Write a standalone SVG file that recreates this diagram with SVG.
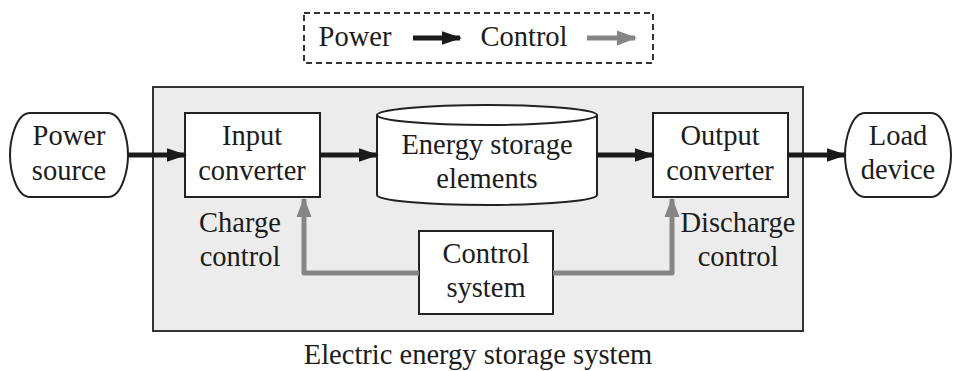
<svg xmlns="http://www.w3.org/2000/svg" width="953" height="371" viewBox="0 0 953 371">
<defs>
<marker id="ahB" markerWidth="4" markerHeight="4" refX="3.6" refY="2" orient="auto" markerUnits="strokeWidth" viewBox="0 0 4 4"><path d="M0,0.65 L4,2 L0,3.35 Z" fill="#1a1a1a"/></marker>
<marker id="ahG" markerWidth="4" markerHeight="4" refX="3.6" refY="2" orient="auto" markerUnits="strokeWidth" viewBox="0 0 4 4"><path d="M0,0.5 L4,2 L0,3.5 Z" fill="#858585"/></marker>
<style>
text{font-family:"Liberation Serif","Times New Roman",serif;font-size:28.5px;fill:#1c1c1c;text-anchor:middle}
.box{fill:#fff;stroke:#222;stroke-width:2}
.pw{stroke:#1a1a1a;stroke-width:5;fill:none;marker-end:url(#ahB)}
.ct{stroke:#858585;stroke-width:5;fill:none;marker-end:url(#ahG);stroke-linejoin:round}
</style>
</defs>
<rect width="953" height="371" fill="#fff"/>
<g id="legend">
<rect x="304" y="13" width="349" height="50" fill="#fff" stroke="#333" stroke-width="2" stroke-dasharray="6,4"/>
<text x="355" y="46">Power</text>
<line class="pw" x1="413" y1="38" x2="460" y2="38"/>
<text x="524" y="46">Control</text>
<line class="ct" x1="587" y1="38" x2="635" y2="38"/>
</g>
<g id="system">
<rect x="153" y="87" width="650" height="244" fill="#ececec" stroke="#333" stroke-width="2"/>
<text x="478" y="364">Electric energy storage system</text>
</g>
<g id="power-source">
<path class="box" d="M30,113 H108 C122,113 128,140 128,155 C128,170 122,197 108,197 H30 C16,197 10,170 10,155 C10,140 16,113 30,113 Z"/>
<text x="69" y="145">Power</text>
<text x="69" y="180">source</text>
</g>
<g id="input-converter">
<rect class="box" x="185" y="113" width="135" height="84"/>
<text x="252" y="145">Input</text>
<text x="252" y="180">converter</text>
</g>
<g id="energy-storage">
<path class="box" d="M377,115 V195 A110,10 0 0 0 597,195 V115 A110,10 0 0 0 377,115 Z"/>
<path d="M377,115 A110,10 0 0 0 597,115" fill="none" stroke="#222" stroke-width="2"/>
<text x="487" y="154">Energy storage</text>
<text x="487" y="188">elements</text>
</g>
<g id="output-converter">
<rect class="box" x="653" y="113" width="135" height="84"/>
<text x="720" y="145">Output</text>
<text x="720" y="180">converter</text>
</g>
<g id="load-device">
<path class="box" d="M865,113 H931 C945,113 951,140 951,155 C951,170 945,197 931,197 H865 C851,197 845,170 845,155 C845,140 851,113 865,113 Z"/>
<text x="898" y="145">Load</text>
<text x="898" y="179">device</text>
</g>
<g id="control-system">
<rect class="box" x="419" y="231" width="134" height="83"/>
<text x="486" y="263">Control</text>
<text x="486" y="297">system</text>
</g>
<g id="labels">
<text x="240" y="232">Charge</text>
<text x="240" y="266">control</text>
<text x="738" y="232">Discharge</text>
<text x="738" y="266">control</text>
</g>
<g id="connectors">
<line class="pw" x1="128" y1="155" x2="185" y2="155"/>
<line class="pw" x1="320" y1="155" x2="377" y2="155"/>
<line class="pw" x1="597" y1="155" x2="653" y2="155"/>
<line class="pw" x1="788" y1="155" x2="845" y2="155"/>
<polyline class="ct" points="419,273 304,273 304,199"/>
<polyline class="ct" points="553,273 672,273 672,199"/>
</g>
</svg>
